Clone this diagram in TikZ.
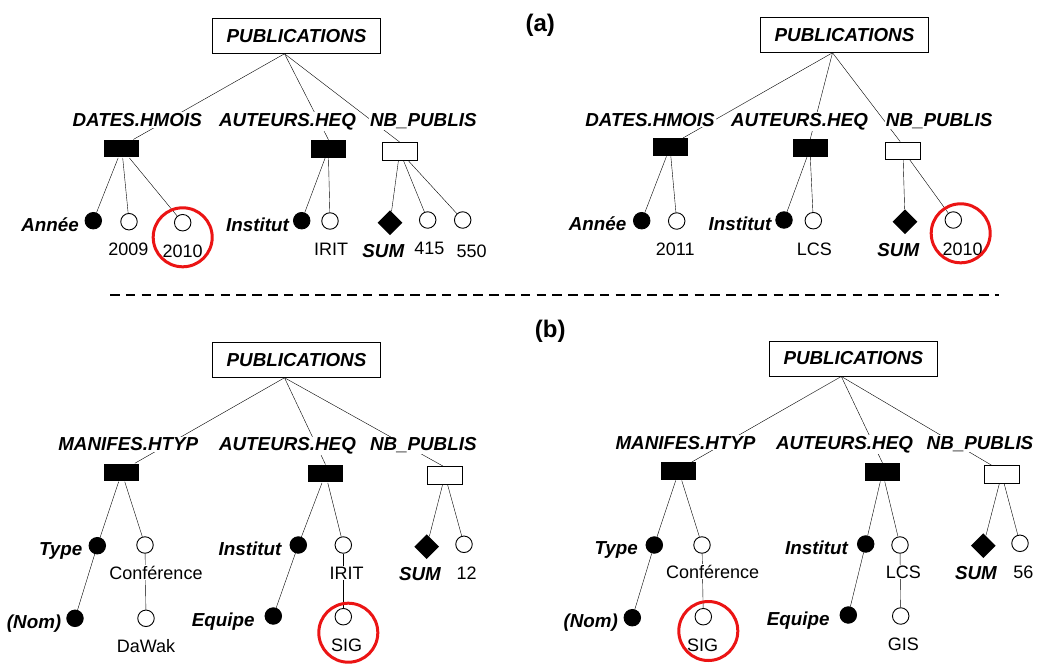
\documentclass[tikz,border=0pt]{standalone}
\usepackage{fontspec}
\setmainfont{Liberation Sans}
\usetikzlibrary{shapes.geometric,calc,backgrounds}
\begin{document}
\begin{tikzpicture}[x=1pt,y=-1pt,line width=0.9pt,
  lbl/.style={font=\bfseries\itshape\fontsize{18.8}{22}\selectfont, fill=white, inner sep=1pt, anchor=base},
  lble/.style={lbl, anchor=base east},
  txt/.style={font=\fontsize{18}{21}\selectfont, fill=white, inner sep=1pt, anchor=base},
  leaf/.style={circle, draw, fill=white, minimum size=16.5, inner sep=0pt},
  dot/.style={circle, draw, fill=black, minimum size=16.5, inner sep=0pt},
  sumd/.style={diamond, fill=black, minimum size=25, inner sep=0pt},
  dimbox/.style={rectangle, fill=black, minimum width=35, minimum height=17.5, inner sep=0pt},
  mesbox/.style={rectangle, draw, fill=white, minimum width=35, minimum height=17.5, inner sep=0pt},
  factbox/.style={rectangle, draw, fill=white, minimum width=167.7, minimum height=35, inner sep=0pt,
     font=\bfseries\itshape\fontsize{18.8}{22}\selectfont},
  hl/.style={circle, draw={rgb,255:red,235;green,20;blue,20}, line width=3pt, minimum size=59, inner sep=0pt},
  tag/.style={font=\bfseries\fontsize{24}{28}\selectfont, anchor=base, inner sep=0pt},
  sep/.style={line width=2.5pt, dash pattern=on 9.5pt off 6.3pt}
]
\useasboundingbox (0,0) rectangle (1037,664);

% ---------- labels (a), (b) and separator
\node[tag] (taga) at (540.3,31.7) {(a)};
\node[tag] (tagb) at (550.3,337) {(b)};
\coordinate (sepl) at (110,295);
\coordinate (sepr) at (999.3,295);
\draw[sep] (sepl) -- (sepr);

% ================= (a) left =================
\node[factbox] (alpub) at (296.5,35.8) {PUBLICATIONS};
\coordinate (alap) at ($(alpub.south)+(-12,0)$);
\node[lbl] (alDl) at (137.2,126.5) {DATES.HMOIS};
\node[lbl] (alAl) at (287.5,126.5) {AUTEURS.HEQ};
\node[lbl] (alNl) at (423.3,126.5) {NB\_PUBLIS};
\node[dimbox] (alD) at (121.8,148.7) {};
\node[dimbox] (alA) at (328.5,149) {};
\node[mesbox] (alN) at (399.7,151.3) {};
\node[dot] (alc1) at (93.3,220.7) {};
\node[leaf] (alc2) at (129,221.7) {};
\node[leaf] (alc3) at (182.7,222.7) {};
\node[dot] (alc4) at (301.7,220.7) {};
\node[leaf] (alc5) at (330,221) {};
\node[sumd] (alsum) at (390,222.7) {};
\node[leaf] (alc6) at (427.7,220) {};
\node[leaf] (alc7) at (462.7,220) {};
\node[lble] (alt1) at (80.3,231) {Année};
\node[txt] (alt2) at (128.3,255) {2009};
\node[txt] (alt3) at (182.7,257) {2010};
\node[lble] (alt4) at (290.3,231.5) {Institut};
\node[txt] (alt5) at (331,255) {IRIT};
\node[lbl] (alt6) at (383.3,257) {SUM};
\node[txt] (alt7) at (429.3,254) {415};
\node[txt] (alt8) at (471.7,257) {550};

% ================= (a) right =================
\node[factbox] (arpub) at (844.5,34.8) {PUBLICATIONS};
\coordinate (arap) at ($(arpub.south)+(-12,0)$);
\node[lbl] (arDl) at (650,126) {DATES.HMOIS};
\node[lbl] (arAl) at (799.5,126) {AUTEURS.HEQ};
\node[lbl] (arNl) at (939.2,126) {NB\_PUBLIS};
\node[dimbox] (arD) at (670,147.2) {};
\node[dimbox] (arA) at (810.3,148) {};
\node[mesbox] (arN) at (903.2,150.8) {};
\node[dot] (arc1) at (641.7,220.7) {};
\node[leaf] (arc2) at (676.7,221) {};
\node[dot] (arc3) at (784,220) {};
\node[leaf] (arc4) at (813.3,220.7) {};
\node[sumd] (arsum) at (905,221.7) {};
\node[leaf] (arc5) at (953.3,220) {};
\node[lble] (art1) at (627.7,230) {Année};
\node[txt] (art2) at (675.3,255) {2011};
\node[lble] (art3) at (772.7,230) {Institut};
\node[txt] (art4) at (814.3,255) {LCS};
\node[lbl] (art5) at (898.3,256) {SUM};
\node[txt] (art6) at (962.7,255) {2010};

% ================= (b) left =================
\node[factbox] (blpub) at (296.5,359.8) {PUBLICATIONS};
\coordinate (blap) at ($(blpub.south)+(-12,0)$);
\node[lbl] (blMl) at (128.3,450.7) {MANIFES.HTYP};
\node[lbl] (blAl) at (287.5,450.7) {AUTEURS.HEQ};
\node[lbl] (blNl) at (423.3,450.7) {NB\_PUBLIS};
\node[dimbox] (blM) at (121.8,472.5) {};
\node[dimbox] (blA) at (325.5,473.7) {};
\node[mesbox] (blN) at (445,475.3) {};
\node[dot] (bltype) at (97.3,545.7) {};
\node[leaf] (blconf) at (145,545) {};
\node[dot] (blnom) at (75,618.3) {};
\node[leaf] (bldawak) at (146,618.3) {};
\node[dot] (blinst) at (298.3,545) {};
\node[leaf] (blirit) at (343.3,545) {};
\node[dot] (blequ) at (273.3,616) {};
\node[leaf] (blsig) at (343.3,616.7) {};
\node[sumd] (blsum) at (426.7,546.7) {};
\node[leaf] (blc12) at (464,544.3) {};
\node[lble] (blt1) at (83.7,555) {Type};
\node[txt] (blt2) at (156,579.3) {Conférence};
\node[lble] (blt3) at (62.7,628.3) {(Nom)};
\node[txt] (blt4) at (146,652.7) {DaWak};
\node[lble] (blt5) at (282.7,555) {Institut};
\node[txt] (blt6) at (346.7,579.3) {IRIT};
\node[lble] (blt7) at (256,626.7) {Equipe};
\node[txt] (blt8) at (346.7,651) {SIG};
\node[lbl] (blt9) at (420,580) {SUM};
\node[txt] (blt10) at (466.7,579.3) {12};

% ================= (b) right =================
\node[factbox] (brpub) at (853.3,358.5) {PUBLICATIONS};
\coordinate (brap) at ($(brpub.south)+(-12,0)$);
\node[lbl] (brMl) at (685.5,449) {MANIFES.HTYP};
\node[lbl] (brAl) at (844.5,449) {AUTEURS.HEQ};
\node[lbl] (brNl) at (980,449) {NB\_PUBLIS};
\node[dimbox] (brM) at (678.8,471.2) {};
\node[dimbox] (brA) at (882.5,472.2) {};
\node[mesbox] (brN) at (1001.7,474.5) {};
\node[dot] (brtype) at (654.3,545) {};
\node[leaf] (brconf) at (702,545) {};
\node[dot] (brnom) at (632.3,617.7) {};
\node[leaf] (brsig) at (703.3,616.7) {};
\node[dot] (brinst) at (865.7,544) {};
\node[leaf] (brlcs) at (900,545) {};
\node[dot] (brequ) at (848.3,615) {};
\node[leaf] (brgis) at (900.7,616) {};
\node[sumd] (brsum) at (983.3,545.7) {};
\node[leaf] (brc56) at (1020,543.3) {};
\node[lble] (brt1) at (639.3,554) {Type};
\node[txt] (brt2) at (712.7,578.3) {Conférence};
\node[lble] (brt3) at (619.3,627.7) {(Nom)};
\node[txt] (brt4) at (702.7,651.7) {SIG};
\node[lble] (brt5) at (849.3,554) {Institut};
\node[txt] (brt6) at (903.3,578.3) {LCS};
\node[lble] (brt7) at (831,625) {Equipe};
\node[txt] (brt8) at (903.3,650) {GIS};
\node[lbl] (brt9) at (976,579) {SUM};
\node[txt] (brt10) at (1023.3,578.3) {56};

% ---------- red highlight circles
\node[hl] (hl1) at (182.7,237.3) {};
\node[hl] (hl2) at (960.7,233.3) {};
\node[hl] (hl3) at (348.3,632.7) {};
\node[hl] (hl4) at (708.3,631) {};

% ---------- connectors (behind the labels)
\begin{scope}[on background layer]
  % (a) left
  \draw (alap) -- ($(alD.north)+(11.5,0)$);
  \draw (alap) -- (alA.north);
  \draw (alap) -- (alN.north);
  \draw (alD) -- (alc1);
  \draw (alD) -- (alc2);
  \draw (alD) -- (alc3);
  \draw (alA) -- (alc4);
  \draw (alA.south) -- (alc5);
  \draw (alN) -- (alsum);
  \draw (alN) -- (alc6);
  \draw (alN) -- (alc7);
  % (a) right
  \draw (arap) -- ($(arD.north)+(13,0)$);
  \draw (arap) -- (arA.north);
  \draw (arap) -- ($(arN.north)+(-3,0)$);
  \draw (arD) -- (arc1);
  \draw (arD) -- (arc2);
  \draw (arA) -- (arc3);
  \draw (arA.south) -- (arc4);
  \draw (arN.south) -- (arsum);
  \draw (arN) -- (arc5);
  % (b) left
  \draw (blap) -- ($(blM.north)+(13,0)$);
  \draw (blap) -- (blA.north);
  \draw (blap) -- ($(blN.north)+(-2,0)$);
  \draw (blM) -- (bltype);
  \draw (blM) -- (blconf);
  \draw (bltype) -- (blnom);
  \draw (blconf) -- (bldawak);
  \draw (blA) -- (blinst);
  \draw (blA) -- (blirit);
  \draw (blinst) -- (blequ);
  \draw (blirit) -- (blsig);
  \draw (blN) -- (blsum);
  \draw (blN) -- (blc12);
  % (b) right
  \draw (brap) -- ($(brM.north)+(13,0)$);
  \draw (brap) -- (brA.north);
  \draw (brap) -- ($(brN.north)+(-10,0)$);
  \draw (brM) -- (brtype);
  \draw (brM) -- (brconf);
  \draw (brtype) -- (brnom);
  \draw (brconf) -- (brsig);
  \draw (brA) -- (brinst);
  \draw (brA) -- (brlcs);
  \draw (brinst) -- (brequ);
  \draw (brlcs) -- (brgis);
  \draw (brN) -- (brsum);
  \draw (brN) -- (brc56);
\end{scope}
\end{tikzpicture}
\end{document}
